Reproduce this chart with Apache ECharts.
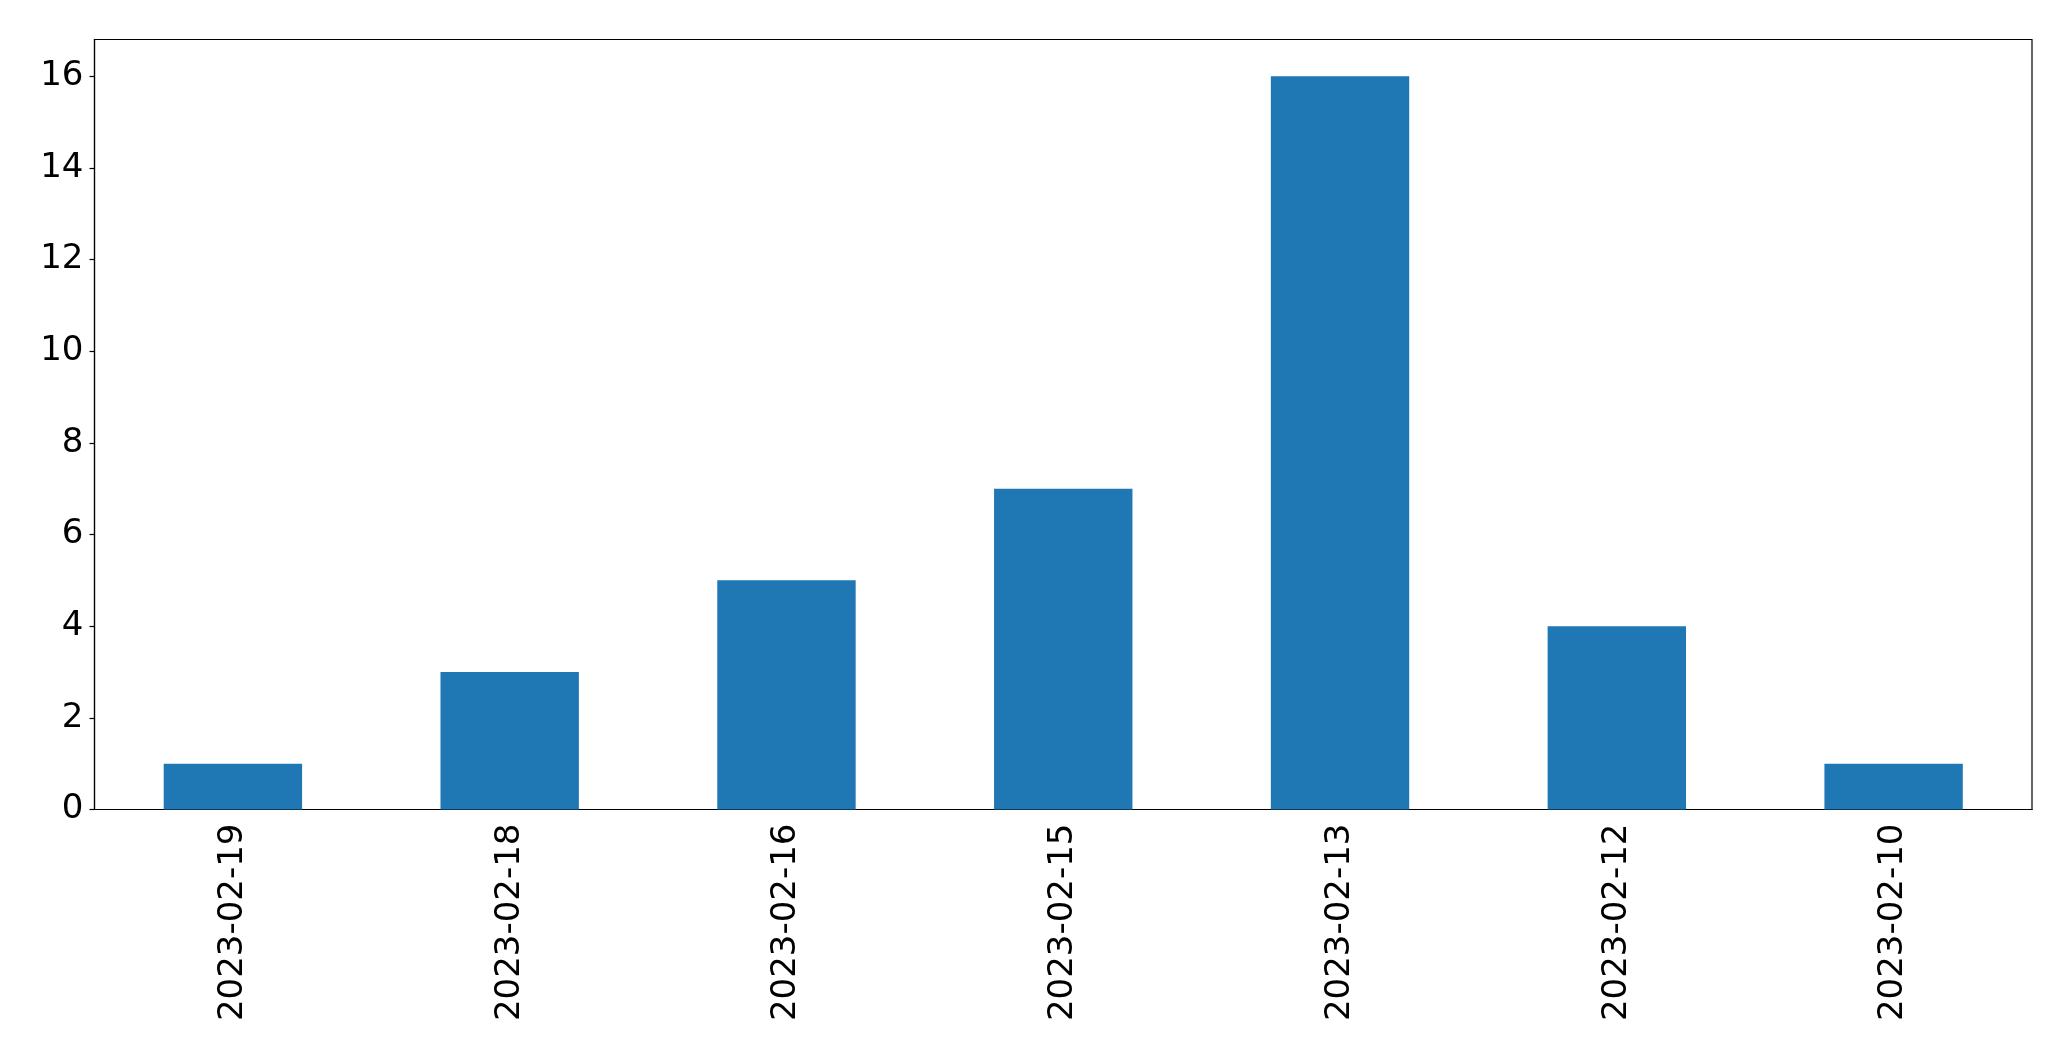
<!DOCTYPE html>
<html>
<head>
<meta charset="utf-8">
<script src="https://cdn.jsdelivr.net/npm/echarts@6/dist/echarts.min.js"></script>
<style>html,body{margin:0;padding:0;background:#fff;}#c{width:2071px;height:1061px;}</style>
</head>
<body>
<div id="c"></div>
<script>
const categories = ["2023-02-19","2023-02-18","2023-02-16","2023-02-15","2023-02-13","2023-02-12","2023-02-10"];
const values = [1, 3, 5, 7, 16, 4, 1];
const yMax = 16.8;
const yInterval = 2;

const chart = echarts.init(document.getElementById('c'), null, {renderer: 'canvas'});
chart.setOption({
  animation: false,
  backgroundColor: '#fff',
  textStyle: {fontFamily: 'DejaVu Sans'},
  grid: {left: 94.5, top: 39.5, right: 39, bottom: 251.5, show: true, borderColor: '#000', borderWidth: 1.2, containLabel: false},
  xAxis: {
    type: 'category',
    data: categories,
    axisLine: {lineStyle: {color: '#000', width: 1.2}},
    axisTick: {alignWithLabel: true, length: 5, lineStyle: {color: '#000', width: 1.2}},
    axisLabel: {rotate: 90, fontSize: 34, color: '#000', margin: 14, fontFamily: 'DejaVu Sans', interval: 0}
  },
  yAxis: {
    type: 'value',
    min: 0, max: yMax, interval: yInterval,
    splitLine: {show: false},
    axisLine: {show: true, lineStyle: {color: '#000', width: 1.2}},
    axisTick: {show: true, length: 5, lineStyle: {color: '#000', width: 1.2}},
    axisLabel: {fontSize: 34, color: '#000', margin: 11, fontFamily: 'DejaVu Sans', showMaxLabel: false,
      formatter: v => (Math.abs(v % yInterval) < 1e-9 ? String(v) : '')}
  },
  series: [{
    type: 'bar',
    data: values,
    barWidth: '50%',
    itemStyle: {color: '#1f77b4'}
  }]
});
</script>
</body>
</html>
